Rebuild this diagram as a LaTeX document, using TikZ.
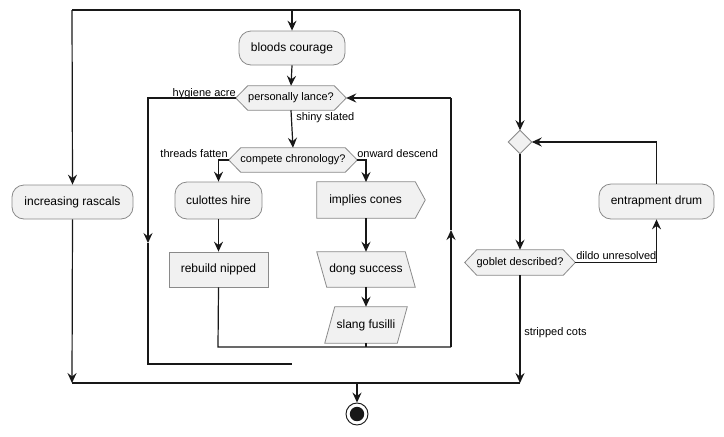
\documentclass[tikz,border=0pt]{standalone}
\usepackage{fontspec}
\setmainfont{Liberation Sans}
\usetikzlibrary{arrows.meta,calc,backgrounds}
\definecolor{boxfill}{HTML}{F1F1F1}
\definecolor{boxline}{HTML}{8A8A8A}
\definecolor{ink}{HTML}{181818}
\tikzset{
  sz/.style 2 args={minimum width=#1*0.75pt, minimum height=#2*0.75pt, inner sep=0pt},
  shp/.style={draw=boxline, fill=boxfill, line width=0.6pt},
  txt/.style={font=\fontsize{9}{11}\selectfont, text=black},
  stxt/.style={font=\fontsize{8.25}{10}\selectfont, text=black},
  rbox/.style={shp, txt, rounded corners=9pt},
  pbox/.style={shp, txt},
  ghost/.style={txt},
  gghost/.style={stxt},
  lbl/.style={font=\fontsize{8.25}{10}\selectfont, text=black, inner sep=0pt},
  flow/.style={draw=ink, line width=0.9pt},
  arr/.style={flow, -{Stealth[length=7.5pt,width=6.8pt,inset=2.6pt]}},
}
\newcommand{\hexshape}[1]{%
  \draw[shp] (#1.west) -- ($(#1.north west)+(12,0)$) -- ($(#1.north east)+(-12,0)$) -- (#1.east)
    -- ($(#1.south east)+(-12,0)$) -- ($(#1.south west)+(12,0)$) -- cycle;}
\begin{document}
\begin{tikzpicture}[x=0.75pt,y=-0.75pt]
\useasboundingbox (0,0) rectangle (724,436);

% rounded and plain boxes
\node[rbox, sz={106}{34}] (bc) at (292,48) {bloods courage};
\node[rbox, sz={87}{37}] (ch) at (218.5,200.5) {culottes hire};
\node[pbox, sz={99}{35}] (rn) at (218.5,269.5) {rebuild nipped};
\node[rbox, sz={121}{34}] (ir) at (72.5,202) {increasing rascals};
\node[rbox, sz={115}{35}] (ed) at (656.5,201.5) {entrapment drum};

% special shapes (text nodes; outlines drawn behind)
\node[gghost, sz={110}{24}] (pl) at (291,98) {personally lance?};
\node[gghost, sz={128}{24}] (cc) at (293,160) {compete chronology?};
\node[gghost, sz={110}{25}] (gd) at (520,262.5) {goblet described?};
\node[ghost, sz={108}{36}] (ic) at (371,200) {\hspace*{-8pt}implies cones};
\node[ghost, sz={98}{35}] (ds) at (366,269.5) {dong success};
\node[ghost, sz={82}{36}] (sf) at (366,325) {slang fusilli};
\node[sz={23}{23}] (md) at (520,142) {};
\node[draw=ink, fill=white, circle, minimum size=16.5pt, inner sep=0pt, line width=0.7pt] (fin) at (357,414) {};
\fill[ink] (fin.center) circle (5.4pt);

\begin{pgfonlayer}{background}
\hexshape{pl}
\hexshape{cc}
\hexshape{gd}
\draw[shp] (ic.north west) -- ($(ic.north east)+(-10,0)$) -- (ic.east) -- ($(ic.south east)+(-10,0)$) -- (ic.south west) -- cycle;
\draw[shp] (ds.north west) -- ($(ds.north east)+(-10,0)$) -- (ds.south east) -- ($(ds.south west)+(10,0)$) -- cycle;
\draw[shp] ($(sf.north west)+(10,0)$) -- (sf.north east) -- ($(sf.south east)+(-10,0)$) -- (sf.south west) -- cycle;
\draw[shp] (md.north) -- (md.east) -- (md.south) -- (md.west) -- cycle;
\end{pgfonlayer}

% coordinates
\coordinate (tl) at (72,10);
\coordinate (tm) at (292,10);
\coordinate (tr) at (520,10);
\coordinate (bl) at (72,383);
\coordinate (bm) at (357,383);
\coordinate (br) at (520,383);
\coordinate (hya) at (148,243);
\coordinate (hyb) at (148,364);
\coordinate (hye) at (292,364);
\coordinate (icn) at (366,182);
\coordinate (ics) at (366,218);
\coordinate (lp1) at (218,347);
\coordinate (lp2) at (451,347);
\coordinate (lpa) at (451,230);
\coordinate (lp3) at (451,98);
\coordinate (sfl) at (366,347);

% connectors
\draw[flow] (tl) -- (tr);
\draw[arr] (tm) -- (bc.north);
\draw[arr] (tl) -- (ir.north);
\draw[arr] (tr) -- (md.north);
\draw[arr] (bc.south) -- (pl.north);
\draw[arr] (pl.west) -| (hya);
\draw[flow] (hya) -- (hyb) -- (hye);
\draw[arr] (pl.south) -- (cc.north);
\draw[arr] (cc.west) -| (ch.north);
\draw[arr] (cc.east) -| (icn);
\draw[arr] (ch.south) -- (rn.north);
\draw[arr] (ics) -- (ds.north);
\draw[arr] (ds.south) -- (sf.north);
\draw[flow] (sf.south) -- (sfl);
\draw[flow] (rn.south) -- (lp1) -- (lp2);
\draw[arr] (lp2) -- (lpa);
\draw[flow] (lpa) -- (lp3);
\draw[arr] (lp3) -- (pl.east);
\draw[arr] (ir.south) -- (bl);
\draw[flow] (bl) -- (br);
\draw[arr] (bm) -- (fin.north);
\draw[arr] (md.south) -- (gd.north);
\draw[arr] (gd.east) -| (ed.south);
\draw[arr] (ed.north) |- (md.east);
\draw[arr] (gd.south) -- (br);

% labels
\node[lbl, anchor=base east] (l1) at (236,96) {hygiene acre};
\node[lbl, anchor=west] (l2) at (296,118) {shiny slated};
\node[lbl, anchor=base east] (l3) at (228,157.5) {threads fatten};
\node[lbl, anchor=base west] (l4) at (357,157.5) {onward descend};
\node[lbl, anchor=base west] (l5) at (576,259.5) {dildo unresolved};
\node[lbl, anchor=west] (l6) at (524,333) {stripped cots};
\end{tikzpicture}
\end{document}
